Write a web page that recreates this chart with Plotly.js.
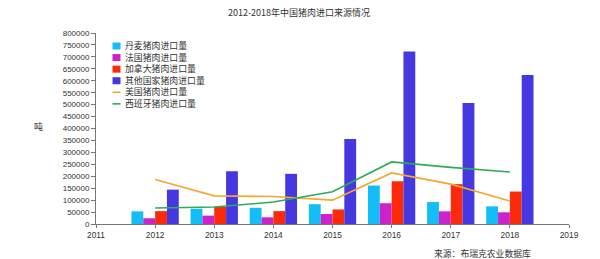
<!DOCTYPE html>
<html>
<head>
<meta charset="utf-8">
<script src="https://cdn.plot.ly/plotly-3.0.1.min.js"></script>
<style>html,body{margin:0;padding:0;background:#fff;}#chart{width:600px;height:259px;}</style>
</head>
<body>
<div id="chart"></div>
<script>
// ---- data ----
const years = [2012, 2013, 2014, 2015, 2016, 2017, 2018];
const denmark = [53000, 64000, 68000, 83000, 161000, 92000, 74000];
const france = [24000, 35000, 28000, 42000, 87000, 53000, 49000];
const canada = [54000, 72000, 54000, 61000, 179000, 167000, 136000];
const others = [144000, 221000, 210000, 356000, 722000, 507000, 624000];
const usa = [186000, 118000, 115000, 100000, 214000, 167000, 96000];
const spain = [67000, 71000, 92000, 135000, 260000, 237000, 218000];

const barNames = ['丹麦猪肉进口量', '法国猪肉进口量', '加拿大猪肉进口量', '其他国家猪肉进口量'];
const lineNames = ['美国猪肉进口量', '西班牙猪肉进口量'];
const barColors = ['#13BDF7', '#CC22CC', '#FA2A0A', '#4538E0'];
const lineColors = ['#F5A630', '#2EAA5A'];
const titleText = '2012-2018年中国猪肉进口来源情况';
const sourceText = '来源：布瑞克农业数据库';
const unitText = '吨';

const barSeries = [denmark, france, canada, others];
const lineSeries = [usa, spain];

const traces = [];
barSeries.forEach((s, i) => traces.push({
  type: 'bar', x: years, y: s, name: barNames[i],
  marker: {color: barColors[i], line: {width: 0}}, showlegend: false
}));
lineSeries.forEach((s, i) => traces.push({
  type: 'scatter', mode: 'lines', x: years, y: s, name: lineNames[i],
  line: {color: lineColors[i], width: 1.6}, showlegend: false
}));

// pixel helpers for the plot frame
const L = 96, R = 569, T = 33, B = 224;
const px = v => (v - L) / (R - L);
const py = v => (B - v) / (B - T);

const font = 'Liberation Sans, Arial, sans-serif';
const cjk = 'Noto Sans CJK SC, sans-serif';

const shapes = [];
const annotations = [];
const legendNames = barNames.concat(lineNames);
const legendColors = barColors.concat(lineColors);
const rowH = 11.57;
legendNames.forEach((n, i) => {
  const cy = 46 + i * rowH;
  if (i < 4) {
    shapes.push({type: 'rect', xref: 'paper', yref: 'paper',
      x0: px(112.5), x1: px(120.5), y0: py(cy - 3.5), y1: py(cy + 3.5),
      fillcolor: legendColors[i], line: {width: 0}});
  } else {
    shapes.push({type: 'line', xref: 'paper', yref: 'paper',
      x0: px(112.5), x1: px(120.5), y0: py(cy), y1: py(cy),
      line: {color: legendColors[i], width: 1.6}});
  }
});
// legend labels as one multi-line text block
annotations.push({xref: 'paper', yref: 'paper', x: px(123.5),
  y: py(46 + rowH * (legendNames.length - 1) / 2),
  xanchor: 'left', yanchor: 'middle', align: 'left', showarrow: false,
  text: legendNames.join('<br>'), borderpad: 0,
  font: {family: cjk, size: 8.9, color: '#333'}});
annotations.push({xref: 'paper', yref: 'paper', x: px(38), y: py(126),
  xanchor: 'center', yanchor: 'middle', showarrow: false, text: unitText,
  font: {family: cjk, size: 9, color: '#333'}});
annotations.push({xref: 'paper', yref: 'paper', x: px(432), y: py(253),
  xanchor: 'left', yanchor: 'middle', showarrow: false, text: sourceText,
  font: {family: cjk, size: 8.8, color: '#333'}});

const layout = {
  width: 600, height: 259,
  margin: {l: L, r: 600 - R, t: T, b: 259 - B, pad: 0},
  paper_bgcolor: '#fff', plot_bgcolor: '#fff',
  title: {text: titleText, x: 299 / 600, xanchor: 'center', y: 1 - 13 / 259, yanchor: 'middle',
    font: {family: cjk, size: 9, color: '#333'}},
  barmode: 'group', bargap: 0.2, bargroupgap: 0,
  showlegend: false,
  xaxis: {range: [2011, 2019], dtick: 1, tick0: 2011, showgrid: false, zeroline: false,
    showline: true, linecolor: '#777', linewidth: 1, ticks: 'outside', ticklen: 3,
    tickcolor: '#777', tickfont: {family: font, size: 8.4, color: '#333'}, fixedrange: true},
  yaxis: {range: [0, 800000], dtick: 50000, tickformat: 'd', showgrid: false, zeroline: false,
    showline: true, linecolor: '#777', linewidth: 1, ticks: 'outside', ticklen: 4,
    tickcolor: '#777', tickfont: {family: font, size: 8, color: '#333'}, fixedrange: true},
  shapes: shapes, annotations: annotations
};

Plotly.newPlot('chart', traces, layout, {staticPlot: true, displayModeBar: false});
</script>
</body>
</html>
